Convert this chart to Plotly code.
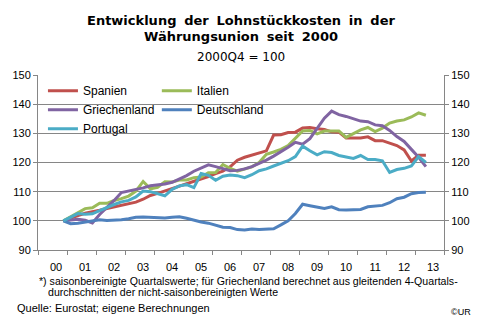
import plotly.graph_objects as go

# Quarterly index values, 2000Q4 = 100 (2000Q4 .. 2013Q2)
quarters = [f"{y}Q{q}" for y in range(2000, 2014) for q in range(1, 5)][3:54]

spanien = [100.0, 101.0, 101.8, 102.6, 103.0, 103.6, 104.2, 104.8, 105.4, 106.0,
           106.4, 107.4, 108.7, 109.4, 110.2, 111.2, 112.0, 112.8, 113.5, 114.3,
           115.2, 116.2, 117.0, 118.5, 120.8, 121.8, 122.5, 123.2, 124.0, 129.4,
           129.5, 130.3, 130.4, 131.8, 132.0, 131.6, 131.3, 130.5, 130.4, 128.4,
           128.4, 128.4, 128.8, 127.5, 127.5, 126.6, 125.8, 124.3, 120.5, 122.5,
           122.5]
italien = [100.0, 101.5, 102.8, 104.2, 104.5, 106.0, 106.0, 107.0, 107.6, 108.5,
           110.2, 113.5, 111.0, 111.5, 113.4, 113.3, 114.0, 114.0, 114.8, 115.0,
           116.5, 116.6, 119.3, 118.0, 117.0, 117.8, 118.5, 120.0, 122.8, 123.6,
           124.5, 125.8, 128.2, 130.8, 131.0, 129.8, 130.8, 130.8, 130.8, 128.6,
           129.8, 131.2, 132.0, 130.6, 131.8, 133.5, 134.2, 134.6, 135.6, 137.0,
           136.2]
griechenland = [100.0, 100.3, 100.5, 100.2, 99.3, 102.2, 104.5, 107.0, 109.7, 110.2,
                110.6, 111.3, 112.0, 112.3, 112.6, 113.2, 114.3, 115.5, 117.0, 118.2,
                119.2, 118.6, 117.8, 117.2, 117.3, 117.8, 118.6, 119.6, 120.8, 122.2,
                123.6, 125.2, 126.9, 126.3, 128.2, 131.5, 135.2, 137.6, 136.4, 135.8,
                135.0, 134.2, 134.0, 132.9, 132.6, 131.0, 128.9, 127.2, 124.5, 121.8,
                118.6]
deutschland = [100.0, 99.0, 99.2, 99.6, 100.2, 100.4, 100.1, 100.2, 100.4, 100.7,
               101.2, 101.3, 101.2, 100.9, 101.0, 101.2, 101.4, 100.9, 100.2, 99.6,
               99.2, 98.5, 97.8, 97.7, 97.0, 96.9, 97.2, 97.0, 97.1, 97.3,
               98.6, 100.0, 102.5, 105.7, 105.2, 104.8, 104.2, 104.8, 103.8, 103.7,
               103.7, 103.9, 104.8, 105.1, 105.3, 106.2, 107.6, 108.1, 109.3, 109.7,
               109.8]
portugal = [100.0, 101.3, 102.5, 102.3, 102.4, 103.5, 104.6, 105.6, 106.5, 107.0,
            108.2, 110.2, 110.0, 109.3, 108.6, 110.8, 112.0, 112.4, 111.4, 116.2,
            115.6, 113.9, 115.3, 115.7, 115.5, 114.8, 115.8, 117.2, 117.8, 118.8,
            119.8, 120.6, 122.0, 125.6, 124.0, 122.6, 123.7, 123.4, 122.4, 122.0,
            121.4, 122.4, 121.0, 121.0, 120.6, 116.6, 117.6, 118.0, 118.8, 122.0,
            120.0]

years = list(range(2000, 2014))
year_labels = [f"{y % 100:02d}" for y in years]
y_ticks = [90, 100, 110, 120, 130, 140, 150]


def qpos(label):
    y, q = label.split("Q")
    return (int(y) - 2000) * 4 + int(q) - 1


xs = [qpos(q) for q in quarters]

series = [
    ("Spanien", spanien, "#C0504D", "legend"),
    ("Italien", italien, "#9BBB59", "legend2"),
    ("Griechenland", griechenland, "#8064A2", "legend"),
    ("Deutschland", deutschland, "#4F81BD", "legend2"),
    ("Portugal", portugal, "#4BACC6", "legend"),
]

fig = go.Figure()
for name, vals, color, leg in series:
    fig.add_trace(go.Scatter(
        x=xs, y=vals, name=name, mode="lines", legend=leg,
        line=dict(color=color, width=3), hoverinfo="skip",
    ))

# carrier trace for the right-hand value axis
fig.add_trace(go.Scatter(
    x=xs, y=deutschland, yaxis="y2", mode="lines", showlegend=False,
    line=dict(color="rgba(0,0,0,0)", width=0), hoverinfo="skip",
))

axis_font = dict(family="Liberation Sans, Arial, sans-serif", size=11, color="#000000")
grid_col = "#868686"

fig.update_layout(
    width=482, height=326,
    margin=dict(l=36, r=36, t=75, b=76),
    paper_bgcolor="white", plot_bgcolor="white",
    showlegend=True,
    xaxis=dict(
        range=[-0.5, 55.5],
        tickmode="array",
        tickvals=[(y - 2000) * 4 + 2 for y in years],
        ticktext=year_labels,
        ticks="", showgrid=False, zeroline=False,
        showline=True, linecolor=grid_col, linewidth=1,
        tickfont=axis_font, ticklabelstandoff=7,
        minor=dict(tickmode="array",
                   tickvals=[(y - 2000) * 4 - 0.5 for y in years + [2014]],
                   ticks="outside", ticklen=4, tickcolor=grid_col, showgrid=False),
    ),
    yaxis=dict(
        range=[90, 150], tickmode="array", tickvals=y_ticks,
        ticks="outside", ticklen=4, tickcolor=grid_col,
        showgrid=True, gridcolor=grid_col, gridwidth=1, zeroline=False,
        showline=True, linecolor=grid_col, linewidth=1,
        tickfont=axis_font,
    ),
    yaxis2=dict(
        range=[90, 150], tickmode="array", tickvals=y_ticks,
        overlaying="y", side="right",
        ticks="outside", ticklen=4, tickcolor=grid_col,
        showgrid=False, zeroline=False,
        showline=True, linecolor=grid_col, linewidth=1,
        tickfont=axis_font,
    ),
    legend=dict(
        x=(41 - 36) / 410, y=(250 - 76) / 175.3, xanchor="left", yanchor="top",
        bgcolor="rgba(0,0,0,0)", borderwidth=0,
        font=dict(family="Liberation Sans, Arial, sans-serif", size=12, color="#000000"),
        tracegroupgap=0,
    ),
    legend2=dict(
        x=(156 - 36) / 410, y=(250 - 76) / 175.3, xanchor="left", yanchor="top",
        bgcolor="rgba(0,0,0,0)", borderwidth=0,
        font=dict(family="Liberation Sans, Arial, sans-serif", size=12, color="#000000"),
        tracegroupgap=0,
    ),
)

# white panel behind the legend entries (above gridlines, below the lines)
fig.add_shape(type="rect", xref="paper", yref="paper",
              x0=(39 - 36) / 410, x1=(272 - 36) / 410,
              y0=(250 - 141) / 175.3, y1=(250 - 78) / 175.3,
              fillcolor="white", line=dict(width=0), layer="between")

sp = " \u2005"  # widened word gap used in the heading
title_font = dict(family="DejaVu Sans, Verdana, sans-serif", size=13, color="#000000")
fig.add_annotation(text="<b>" + sp.join("Entwicklung der Lohnstückkosten in der".split(" ")) + "</b>",
                   x=0.5, y=20, xref="paper", yref="paper", showarrow=False,
                   font=title_font, xanchor="center", yanchor="middle")
fig.add_annotation(text="<b>" + sp.join("Währungsunion seit 2000".split(" ")) + "</b>",
                   x=0.5, y=36.7, xref="paper", yref="paper", showarrow=False,
                   font=title_font, xanchor="center", yanchor="middle")
fig.add_annotation(text="2000Q4 = 100",
                   x=0.5, y=56.7, xref="paper", yref="paper", showarrow=False,
                   font=dict(family="DejaVu Sans, Verdana, sans-serif", size=12, color="#000000"),
                   xanchor="center", yanchor="middle")

note_font = dict(family="Liberation Sans, Arial, sans-serif", size=10.6, color="#000000")
fig.add_annotation(text="*) saisonbereinigte Quartalswerte; für Griechenland berechnet aus gleitenden 4-Quartals-",
                   x=35, y=280.7, showarrow=False, font=note_font, xanchor="left", yanchor="middle")
fig.add_annotation(text="durchschnitten der nicht-saisonbereinigten Werte",
                   x=44, y=292.3, showarrow=False, font=note_font, xanchor="left", yanchor="middle")
fig.add_annotation(text="Quelle: Eurostat; eigene Berechnungen",
                   x=13, y=308.3, showarrow=False,
                   font=dict(family="Liberation Sans, Arial, sans-serif", size=11, color="#000000"),
                   xanchor="left", yanchor="middle")
fig.add_annotation(text="©UR",
                   x=475, y=311.7, showarrow=False,
                   font=dict(family="Liberation Sans, Arial, sans-serif", size=9, color="#000000"),
                   xanchor="right", yanchor="middle")

# annotations above were placed in pixel terms; convert them to paper coordinates
W, H = 482, 326
L, R, T, B = 36, 36, 75, 76
pw, ph = W - L - R, H - T - B
for ann in fig.layout.annotations:
    ann.xref = "paper"
    ann.yref = "paper"
    if ann.xanchor == "center":
        ann.x = (241 - L) / pw
    else:
        ann.x = (ann.x - L) / pw
    ann.y = (H - B - ann.y) / ph

fig.write_html("out.html")
